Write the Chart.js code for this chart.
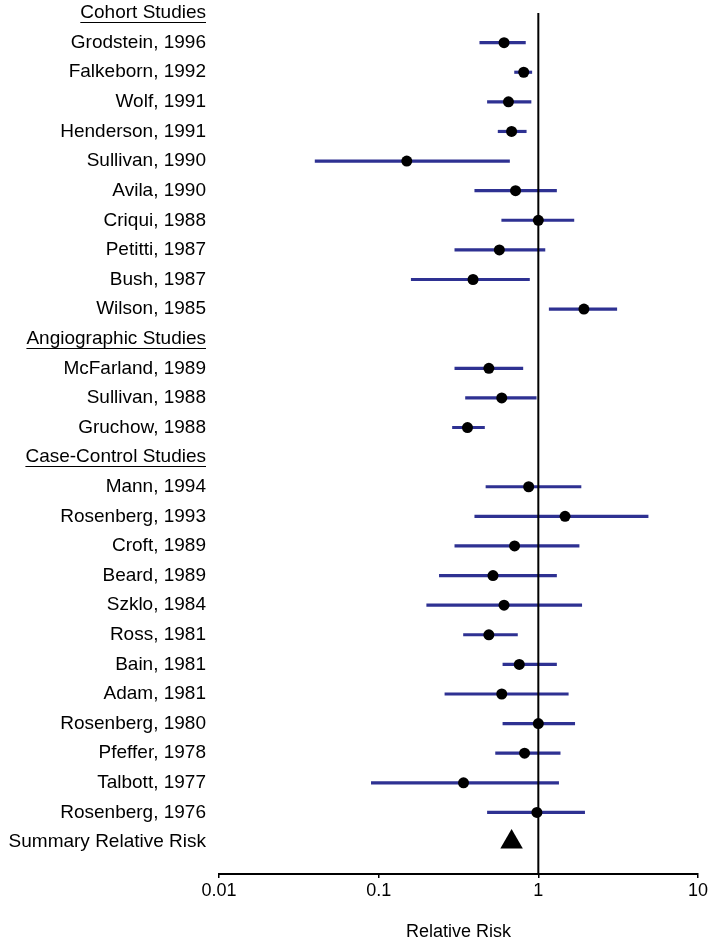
<!DOCTYPE html>
<html lang="en">

<head>
    <meta charset="UTF-8">
    <title>Relative Risk - forest plot</title>
    <style>
        html, body { margin: 0; padding: 0; background: #fff; }
        #wrap { width: 710px; height: 943px; position: relative; }
    </style>
</head>

<body>
    <div id="wrap">
        <canvas id="forestChart"></canvas>
    </div>

    <script src="https://cdn.jsdelivr.net/npm/chart.js"></script>
    <script>
        const rowLabels = [
            'Cohort Studies', 'Grodstein, 1996', 'Falkeborn, 1992', 'Wolf, 1991', 'Henderson, 1991',
            'Sullivan, 1990', 'Avila, 1990', 'Criqui, 1988', 'Petitti, 1987', 'Bush, 1987', 'Wilson, 1985',
            'Angiographic Studies', 'McFarland, 1989', 'Sullivan, 1988', 'Gruchow, 1988',
            'Case-Control Studies', 'Mann, 1994', 'Rosenberg, 1993', 'Croft, 1989', 'Beard, 1989',
            'Szklo, 1984', 'Ross, 1981', 'Bain, 1981', 'Adam, 1981', 'Rosenberg, 1980', 'Pfeffer, 1978',
            'Talbott, 1977', 'Rosenberg, 1976', 'Summary Relative Risk'
        ];
        const headerRows = ['Cohort Studies', 'Angiographic Studies', 'Case-Control Studies'];

        // relative risk and 95% CI per row (null = header / summary row)
        const relRisk = [null, 0.61, 0.81, 0.65, 0.68, 0.15, 0.72, 1.00, 0.57, 0.39, 1.93,
            null, 0.49, 0.59, 0.36,
            null, 0.87, 1.47, 0.71, 0.52, 0.61, 0.49, 0.76, 0.59, 1.00, 0.82, 0.34, 0.98, null];
        const ciLow = [null, 0.43, 0.71, 0.48, 0.56, 0.04, 0.40, 0.59, 0.30, 0.16, 1.17,
            null, 0.30, 0.35, 0.29,
            null, 0.47, 0.40, 0.30, 0.24, 0.20, 0.34, 0.60, 0.26, 0.60, 0.54, 0.09, 0.48, null];
        const ciHigh = [null, 0.83, 0.91, 0.90, 0.84, 0.66, 1.30, 1.67, 1.10, 0.88, 3.10,
            null, 0.80, 0.97, 0.46,
            null, 1.85, 4.87, 1.80, 1.30, 1.87, 0.74, 1.30, 1.54, 1.69, 1.37, 1.34, 1.95, null];
        const summaryRisk = 0.68;
        const xTicks = [0.01, 0.1, 1, 10];

        const labelFont = { family: '"Liberation Sans", Arial, sans-serif', size: 19 };
        const axisFont = { family: '"Liberation Sans", Arial, sans-serif', size: 18 };
        const summaryRow = rowLabels.length - 1;
        const yMin = -0.44, yMax = 29.08;

        const ciBars = [], points = [];
        rowLabels.forEach((l, i) => {
            if (relRisk[i] === null) return;
            ciBars.push({ x: [ciLow[i], ciHigh[i]], y: i });
            points.push({ x: relRisk[i], y: i });
        });

        // underline the group headings
        const headerUnderline = {
            id: 'headerUnderline',
            afterDraw(chart) {
                const ctx = chart.ctx;
                const yScale = chart.scales.y;
                const right = chart.chartArea.left - 13;
                ctx.save();
                ctx.font = labelFont.size + 'px ' + labelFont.family;
                ctx.strokeStyle = '#000';
                ctx.lineWidth = 1;
                headerRows.forEach(name => {
                    const py = Math.round(yScale.getPixelForValue(rowLabels.indexOf(name)) + 9) + 0.5;
                    const w = ctx.measureText(name).width;
                    ctx.beginPath();
                    ctx.moveTo(right - w, py);
                    ctx.lineTo(right, py);
                    ctx.stroke();
                });
                ctx.restore();
            }
        };

        const ctx = document.getElementById('forestChart').getContext('2d');
        const forestChart = new Chart(ctx, {
            type: 'bar',
            data: {
                datasets: [{
                    type: 'bar',
                    indexAxis: 'y',
                    data: ciBars,
                    backgroundColor: '#2e3192',
                    borderWidth: 0,
                    barThickness: 2.5,
                    order: 3
                }, {
                    type: 'line',
                    data: [{ x: 1, y: 0 }, { x: 1, y: yMax }],
                    borderColor: '#000',
                    borderWidth: 2,
                    pointRadius: 0,
                    order: 2
                }, {
                    type: 'scatter',
                    data: points,
                    backgroundColor: '#000',
                    borderWidth: 0,
                    pointRadius: 5.5,
                    order: 1
                }, {
                    type: 'scatter',
                    data: [{ x: summaryRisk, y: summaryRow }],
                    pointStyle: 'triangle',
                    backgroundColor: '#000',
                    borderWidth: 0,
                    pointRadius: 13,
                    order: 0
                }]
            },
            options: {
                responsive: true,
                maintainAspectRatio: false,
                animation: false,
                layout: { autoPadding: false, padding: { left: 0, right: 11, top: 0, bottom: 0 } },
                plugins: {
                    legend: { display: false },
                    tooltip: { enabled: false }
                },
                scales: {
                    x: {
                        type: 'logarithmic',
                        position: 'bottom',
                        offset: false,
                        min: 0.01,
                        max: 10,
                        afterBuildTicks: axis => { axis.ticks = xTicks.map(v => ({ value: v })); },
                        afterFit: axis => { axis.height = 69; },
                        ticks: {
                            color: '#000',
                            font: axisFont,
                            padding: 2,
                            maxRotation: 0,
                            autoSkip: false,
                            callback: value => String(value)
                        },
                        grid: { offset: false, drawOnChartArea: false, drawTicks: true, tickLength: 4, color: '#000', lineWidth: 1.5 },
                        border: { display: true, color: '#000', width: 2 },
                        title: {
                            display: true,
                            text: 'Relative Risk',
                            color: '#000',
                            font: axisFont,
                            padding: { top: 0, bottom: 0 }
                        }
                    },
                    y: {
                        type: 'linear',
                        reverse: true,
                        offset: false,
                        min: yMin,
                        max: yMax,
                        afterBuildTicks: axis => { axis.ticks = rowLabels.map((l, i) => ({ value: i })); },
                        afterFit: axis => {
                            axis.width = 219;
                            axis.paddingTop = 0;
                            axis.paddingBottom = 0;
                        },
                        ticks: {
                            color: '#000',
                            font: labelFont,
                            padding: 13,
                            autoSkip: false,
                            callback: value => rowLabels[value]
                        },
                        grid: { display: false, drawTicks: false, offset: false },
                        border: { display: false }
                    }
                }
            },
            plugins: [headerUnderline]
        });
    </script>
</body>

</html>
